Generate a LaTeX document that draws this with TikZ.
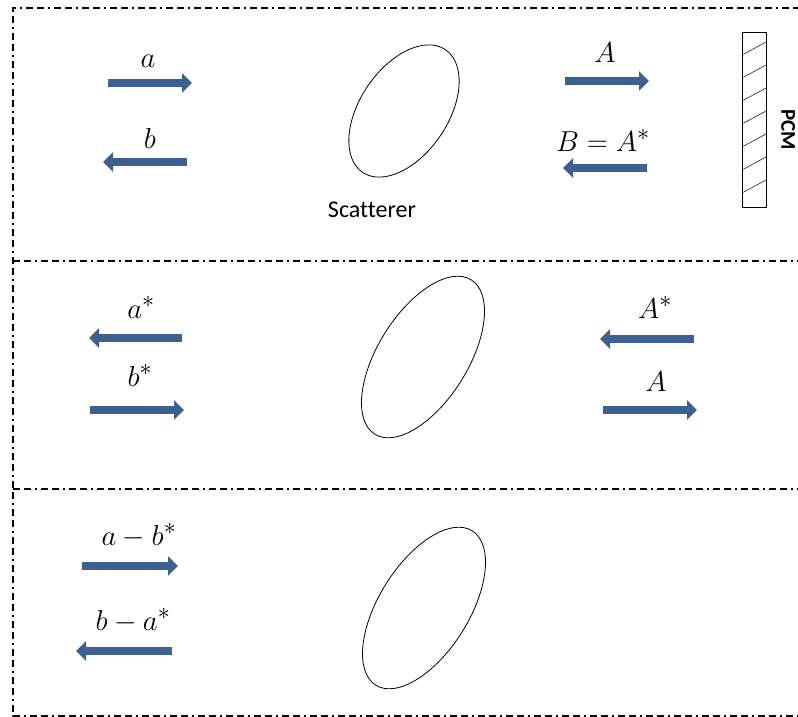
\documentclass[tikz,border=0pt]{standalone}
\usepackage{graphicx}
\usepackage{fontspec}
\newfontfamily\carlito[Ligatures={NoCommon}]{Carlito}
\usetikzlibrary{arrows.meta}
\definecolor{arrowblue}{RGB}{62,96,145}
\newcommand{\mylbl}[1]{\scalebox{1.16}{$#1$}}
\tikzset{
  flow/.style={draw=arrowblue, line width=7.5pt, -{Triangle[length=10pt,width=19pt]}},
  border/.style={line width=1.4pt, dash pattern=on 7pt off 4pt on 7pt off 4pt on 2pt off 4pt},
  scat/.style={line width=0.8pt},
  lab/.style={anchor=base, inner sep=0pt, font=\fontsize{24.88}{30}\selectfont},
}
\begin{document}
\begin{tikzpicture}[x=1pt,y=-1pt]
\useasboundingbox (0,0) rectangle (798,717);
% borders
\draw[border] (800,8) -- (13,8) -- (13,716) -- (800,716);
\draw[border] (13,261) -- (800,261);
\draw[border] (13,489) -- (800,489);

% panel 1
\coordinate (a1s) at (108,83);  \coordinate (a1e) at (192,83);
\coordinate (b1s) at (187,162); \coordinate (b1e) at (103,162);
\coordinate (A1s) at (565,81);  \coordinate (A1e) at (649,81);
\coordinate (B1s) at (647,168); \coordinate (B1e) at (563,168);
\draw[flow] (a1s) -- (a1e);
\draw[flow] (b1s) -- (b1e);
\draw[flow] (A1s) -- (A1e);
\draw[flow] (B1s) -- (B1e);
\node[lab] (la1) at (148,68) {\mylbl{a}};
\node[lab] (lb1) at (150,148) {\mylbl{b}};
\node[lab] (lA1) at (605,63) {\mylbl{A}};
\node[lab] (lB1) at (603,151) {\mylbl{B=A^{*}}};
\draw[scat, rotate around={56:(404,111)}] (404,111) ellipse (74 and 44);
\coordinate (e1) at (404,111);
\node[anchor=base, inner sep=0pt, font=\carlito\fontsize{24}{28}\selectfont] (sc) at (372,217) {Scatterer};
% PCM
\draw[line width=0.8pt] (742,32) rectangle (766,207);
\foreach \k in {0,...,6}{
  \draw[line width=0.5pt] (742,{55+23*\k}) -- (766,{42+23*\k});
}
\node[rotate=-90, anchor=south, inner sep=0pt, font=\carlito\bfseries\fontsize{21}{25}\selectfont] (pcm) at (781,130) {PCM};

% panel 2
\coordinate (a2s) at (182,338); \coordinate (a2e) at (89,338);
\coordinate (b2s) at (90,410);  \coordinate (b2e) at (184,410);
\coordinate (A2s) at (694,339); \coordinate (A2e) at (600,339);
\coordinate (C2s) at (603,410); \coordinate (C2e) at (697,410);
\draw[flow] (a2s) -- (a2e);
\draw[flow] (b2s) -- (b2e);
\draw[flow] (A2s) -- (A2e);
\draw[flow] (C2s) -- (C2e);
\node[lab] (la2) at (141,318) {\mylbl{a^{*}}};
\node[lab] (lb2) at (140,386) {\mylbl{b^{*}}};
\node[lab] (lA2) at (655,318) {\mylbl{A^{*}}};
\node[lab] (lC2) at (656,391) {\mylbl{A}};
\draw[scat, rotate around={58:(423,357)}] (423,357) ellipse (91 and 45);

% panel 3
\coordinate (a3s) at (82,566);  \coordinate (a3e) at (178,566);
\coordinate (b3s) at (172,651); \coordinate (b3e) at (76,651);
\draw[flow] (a3s) -- (a3e);
\draw[flow] (b3s) -- (b3e);
\node[lab] (la3) at (139,545) {\mylbl{a-b^{*}}};
\node[lab] (lb3) at (133,630) {\mylbl{b-a^{*}}};
\draw[scat, rotate around={58:(424,608)}] (424,608) ellipse (91 and 45);
\end{tikzpicture}
\end{document}
